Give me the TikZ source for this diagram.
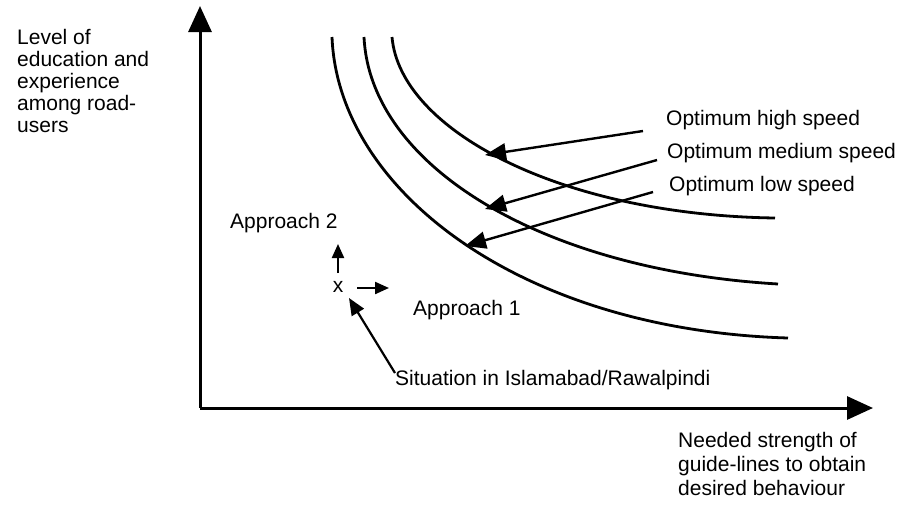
\documentclass[tikz,border=0pt]{standalone}
\usepackage{fontspec}
\setmainfont{Liberation Sans}
\usetikzlibrary{arrows.meta}

\begin{document}
\begin{tikzpicture}[x=1pt, y=-1pt,
    every node/.style={inner sep=0pt, font=\fontsize{21}{22}\selectfont, text=black},
    axis/.style={line width=3pt, -{Triangle[length=26pt, width=23pt]}},
    curve/.style={line width=2.8pt},
    pointer/.style={line width=2.4pt, -{Triangle[length=21pt, width=17pt]}},
    small/.style={line width=2.2pt, -{Triangle[length=14pt, width=12pt]}},
    label/.style={anchor=base west},
    block/.style={anchor=north west, align=left}]
  \useasboundingbox (0,0) rectangle (906,507);

  % axes
  \coordinate (O) at (200,408);
  \coordinate (ytip) at (200,6);
  \coordinate (xtip) at (873,408);
  \draw[axis] (O) -- (ytip);
  \draw[axis] (O) -- (xtip);

  % axis titles
  \node[block] (ylab) at (17,29) {Level of\\education and\\experience\\among road-\\users};
  \node[block, font=\fontsize{21}{24}\selectfont] (xlab) at (678,432) {Needed strength of\\guide-lines to obtain\\desired behaviour};

  % speed curves
  \draw[curve] (392,37) .. controls (400,130) and (560,215) .. (775,218);
  \draw[curve] (364,37) .. controls (370,165) and (540,270) .. (778,284);
  \draw[curve] (332,37) .. controls (338,190) and (520,330) .. (788,338);

  % curve labels and pointers
  \node[label] (high) at (666,125) {Optimum high speed};
  \node[label] (med) at (667,158) {Optimum medium speed};
  \node[label] (low) at (669,191) {Optimum low speed};
  \coordinate (highfrom) at (643,131);
  \coordinate (medfrom) at (657,160);
  \coordinate (lowfrom) at (653,192);
  \coordinate (highto) at (485,155);
  \coordinate (medto) at (485,209);
  \coordinate (lowto) at (465,246);
  \draw[pointer] (highfrom) -- (highto);
  \draw[pointer] (medfrom) -- (medto);
  \draw[pointer] (lowfrom) -- (lowto);

  % present situation and the two approaches
  \node (x) at (338,287) {x};
  \node[label] (ap2) at (230,228) {Approach 2};
  \node[label] (ap1) at (413,315) {Approach 1};
  \node[label] (sit) at (395,385) {Situation in Islamabad/Rawalpindi};
  \coordinate (upfrom) at (338,273);
  \coordinate (upto) at (338,244);
  \coordinate (rfrom) at (357,288);
  \coordinate (rto) at (389,288);
  \coordinate (sitfrom) at (395,373);
  \coordinate (sitto) at (349,298);
  \draw[small] (upfrom) -- (upto);
  \draw[small] (rfrom) -- (rto);
  \draw[pointer, line width=2.2pt, -{Triangle[length=17pt, width=14pt]}] (sitfrom) -- (sitto);
\end{tikzpicture}
\end{document}
